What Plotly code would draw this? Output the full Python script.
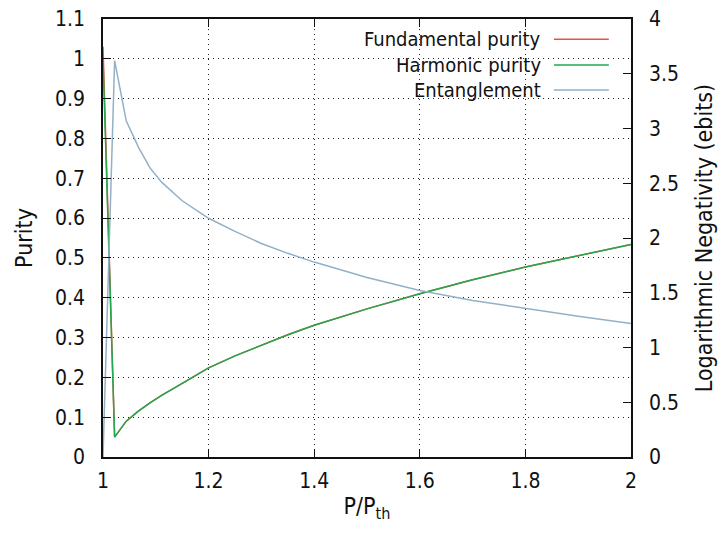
import plotly.graph_objects as go

# ---- data ----
x_vals = [1.0, 1.022, 1.044, 1.067, 1.089, 1.111, 1.15, 1.2, 1.25, 1.3, 1.35, 1.4,
          1.5, 1.6, 1.7, 1.8, 1.9, 2.0]
fund_purity = [1.03, 0.05, 0.09, 0.115, 0.136, 0.155, 0.185, 0.224, 0.254, 0.281, 0.307, 0.331,
               0.372, 0.41, 0.445, 0.477, 0.506, 0.534]
harm_purity = [1.0, 0.05, 0.09, 0.115, 0.136, 0.155, 0.185, 0.224, 0.254, 0.281, 0.307, 0.331,
               0.372, 0.41, 0.445, 0.477, 0.506, 0.534]
entanglement = [0.0, 3.62, 3.07, 2.83, 2.64, 2.51, 2.34, 2.18, 2.06, 1.95, 1.86, 1.78,
                1.64, 1.52, 1.43, 1.355, 1.285, 1.218]

names = ["Fundamental purity", "Harmonic purity", "Entanglement"]
colors = ["#ee5040", "#1faa50", "#92b0c6"]

FAM = "DejaVu Sans Condensed, DejaVu Sans, sans-serif"
FS = 21


def fnt(size=FS):
    return dict(family=FAM, size=size, color="#111")


fig = go.Figure()
fig.add_trace(go.Scatter(x=x_vals, y=fund_purity, mode="lines", name=names[0],
                         line=dict(color=colors[0], width=1.5), yaxis="y"))
fig.add_trace(go.Scatter(x=x_vals, y=harm_purity, mode="lines", name=names[1],
                         line=dict(color=colors[1], width=1.5), yaxis="y"))
fig.add_trace(go.Scatter(x=x_vals, y=entanglement, mode="lines", name=names[2],
                         line=dict(color=colors[2], width=1.5), yaxis="y2"))

grid = dict(showgrid=True, gridcolor="#222", gridwidth=1, griddash="1px,4px")

fig.update_layout(
    width=721, height=539,
    margin=dict(l=103, r=90, t=19, b=82, autoexpand=False),
    paper_bgcolor="white", plot_bgcolor="white",
    showlegend=False,
    font=fnt(),
    xaxis=dict(range=[1, 2], dtick=0.2, tick0=1, ticks="inside", ticklen=8,
               tickcolor="#111", showline=True, linecolor="#111", linewidth=1.5,
               mirror="ticks", zeroline=False, ticklabelstandoff=4, tickfont=fnt(),
               automargin=False,
               title=dict(text="P/P<sub>th</sub>", standoff=6, font=fnt(23)), **grid),
    yaxis=dict(range=[0, 1.1], dtick=0.1, tick0=0, ticks="inside", ticklen=8,
               tickcolor="#111", showline=True, linecolor="#111", linewidth=1.5,
               zeroline=False, ticklabelstandoff=12, tickfont=fnt(), automargin=False,
               title=dict(text="Purity", standoff=16, font=fnt(23)), **grid),
    yaxis2=dict(range=[0, 4], dtick=0.5, tick0=0, ticks="inside", ticklen=8,
                tickcolor="#111", showline=True, linecolor="#111", linewidth=1.5,
                overlaying="y", side="right", showgrid=False, zeroline=False,
                ticklabelstandoff=12, tickfont=fnt(), automargin=False,
                title=dict(text="Logarithmic Negativity (ebits)", standoff=18, font=fnt(23))),
)

# legend drawn gnuplot-style (text right-aligned, sample line to the right)
fig.add_shape(type="rect", xref="paper", yref="paper", x0=0.455, x1=0.975,
              y0=0.81, y1=0.993, fillcolor="white", line=dict(width=0), layer="between")
leg_y = [0.954, 0.895, 0.838]
for name, col, yy in zip(names, colors, leg_y):
    fig.add_annotation(xref="paper", yref="paper", x=0.831, y=yy, text=name,
                       showarrow=False, xanchor="right", yanchor="middle",
                       borderpad=0, font=fnt(20))
    fig.add_shape(type="line", xref="paper", yref="paper", x0=0.854, x1=0.958,
                  y0=yy, y1=yy, line=dict(color=col, width=1.5))

fig.write_html("out.html")
